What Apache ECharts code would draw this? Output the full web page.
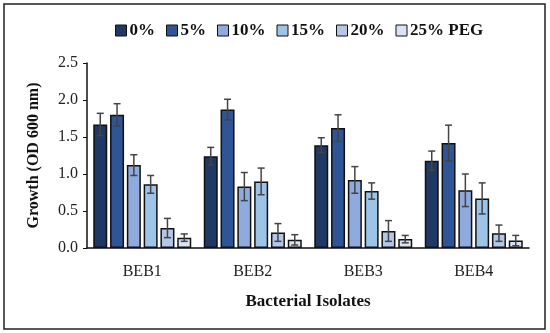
<!DOCTYPE html>
<html><head><meta charset="utf-8">
<script src="https://cdn.jsdelivr.net/npm/echarts@6/dist/echarts.min.js"></script>
<style>html,body{margin:0;padding:0;background:#fff}#c{width:550px;height:333px}</style>
</head><body><div id="c"></div>
<script>
const categories = ['BEB1', 'BEB2', 'BEB3', 'BEB4'];
const seriesNames = ['0%', '5%', '10%', '15%', '20%', '25% PEG'];
const v0  = [1.67, 1.24, 1.39, 1.18];
const v5  = [1.80, 1.87, 1.62, 1.42];
const v10 = [1.12, 0.83, 0.92, 0.78];
const v15 = [0.86, 0.90, 0.77, 0.67];
const v20 = [0.27, 0.21, 0.23, 0.20];
const v25 = [0.14, 0.11, 0.12, 0.10];
const e0  = [0.15, 0.12, 0.10, 0.13];
const e5  = [0.15, 0.14, 0.18, 0.24];
const e10 = [0.14, 0.19, 0.18, 0.22];
const e15 = [0.12, 0.18, 0.11, 0.21];
const e20 = [0.13, 0.12, 0.14, 0.11];
const e25 = [0.05, 0.07, 0.05, 0.07];
const yTicks = [0, 0.5, 1.0, 1.5, 2.0, 2.5];

const values = [v0, v5, v10, v15, v20, v25];
const errors = [e0, e5, e10, e15, e20, e25];
const colors = ['#203864', '#2f5597', '#8faadc', '#9dc3e6', '#b4c7e7', '#dae3f3'];
const BW = 14, GAP = 2.8;
const font = "'Liberation Serif', serif";

const series = [];
values.forEach((vals, i) => {
  series.push({
    name: seriesNames[i], type: 'bar', data: vals,
    barWidth: BW, barGap: (GAP / BW * 100) + '%',
    itemStyle: { color: colors[i], borderColor: '#111', borderWidth: 1.5 },
    emphasis: { disabled: true }
  });
});
values.forEach((vals, i) => {
  series.push({
    type: 'custom', name: seriesNames[i] + ' err', z: 10,
    data: vals.map((v, k) => [k, v, errors[i][k]]),
    renderItem: function (params, api) {
      const k = api.value(0), v = api.value(1), e = api.value(2);
      const off = (i - 2.5) * (BW + GAP);
      const top = api.coord([k, v + e]);
      const bot = api.coord([k, v - e]);
      const x = top[0] + off;
      const hw = 3.5;
      const st = { stroke: '#444', lineWidth: 1.5 };
      return { type: 'group', children: [
        { type: 'line', shape: { x1: x, y1: top[1], x2: x, y2: bot[1] }, style: st },
        { type: 'line', shape: { x1: x - hw, y1: top[1], x2: x + hw, y2: top[1] }, style: st },
        { type: 'line', shape: { x1: x - hw, y1: bot[1], x2: x + hw, y2: bot[1] }, style: st }
      ]};
    }
  });
});

const chart = echarts.init(document.getElementById('c'), null, { renderer: 'canvas' });
chart.setOption({
  animation: false,
  backgroundColor: '#fff',
  graphic: [{ type: 'rect', shape: { x: 4, y: 4, width: 541, height: 325 },
    style: { fill: 'none', stroke: '#222', lineWidth: 1.5 }, z: 100 }],
  legend: {
    data: seriesNames, top: 17, left: 110, itemGap: 11,
    itemWidth: 11, itemHeight: 11, icon: 'rect',
    textStyle: { fontFamily: font, fontSize: 17, fontWeight: 'bold', color: '#111', padding: [0, 0, 0, -2] },
    itemStyle: { borderColor: '#111', borderWidth: 1 }
  },
  grid: { left: 87, right: 21, top: 63, bottom: 85 },
  xAxis: {
    type: 'category', data: categories,
    axisLine: { lineStyle: { color: '#111', width: 1.5 } },
    axisTick: { show: false },
    axisLabel: { fontFamily: font, fontSize: 16, color: '#222', margin: 16 },
    name: 'Bacterial Isolates', nameLocation: 'middle', nameGap: 45,
    nameTextStyle: { fontFamily: font, fontSize: 17, fontWeight: 'bold', color: '#111' }
  },
  yAxis: {
    type: 'value', min: 0, max: 2.5, interval: 0.5,
    axisLine: { show: true, lineStyle: { color: '#111', width: 1.5 } },
    axisTick: { show: true, length: 4, inside: false, lineStyle: { color: '#111' } },
    splitLine: { show: false },
    axisLabel: { fontFamily: font, fontSize: 16, color: '#222', margin: 9,
      formatter: v => yTicks.includes(v) ? v.toFixed(1) : '' },
    name: 'Growth (OD 600 nm)', nameLocation: 'middle', nameGap: 45,
    nameTextStyle: { fontFamily: font, fontSize: 16, fontWeight: 'bold', color: '#111' }
  },
  series: series
});
</script></body></html>
